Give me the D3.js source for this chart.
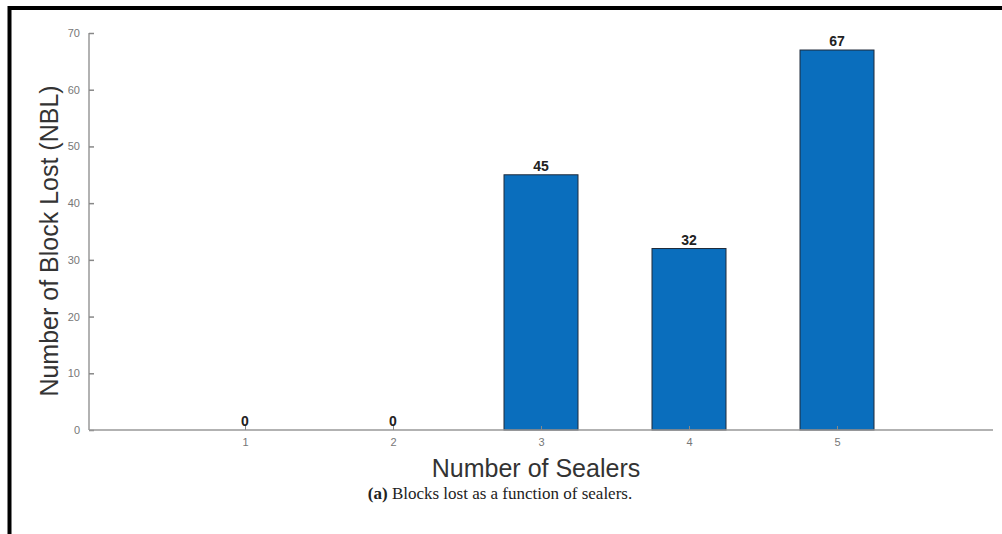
<!DOCTYPE html>
<html>
<head>
<meta charset="utf-8">
<script src="https://cdn.jsdelivr.net/npm/d3@7"></script>
<style>
  body { margin: 0; background: #fff; }
  svg { display: block; }
</style>
</head>
<body>
<div id="chart"></div>
<script>
(function(){
	var width = 1002,
	    height = 534;

	// data
	var sealers = [1, 2, 3, 4, 5];
	var blocksLost = [0, 0, 45, 32, 67];
	var yTicks = [0, 10, 20, 30, 40, 50, 60, 70];

	var svg = d3.select("#chart")
	  .append("svg")
	  .attr("width", width)
	  .attr("height", height);

	// black frame round the figure (top and left only visible)
	svg.append("path")
	  .attr("d", "M9.5,534 L9.5,8 L1002,8")
	  .attr("fill", "none")
	  .attr("stroke", "#000")
	  .attr("stroke-width", 4);

	var x = d3.scaleLinear().domain([-0.054, 6.054]).range([89, 993]);
	var y = d3.scaleLinear().domain([0, 70]).range([430, 33]);
	var barW = 74;

	// bars
	svg.selectAll(".bar")
	  .data(sealers)
	  .enter().append("rect")
	  .attr("class", "bar")
	  .attr("x", function(d) { return x(d) - barW / 2 })
	  .attr("y", function(d, i) { return y(blocksLost[i]) })
	  .attr("width", barW)
	  .attr("height", function(d, i) { return y(0) - y(blocksLost[i]) })
	  .attr("fill", "#0a6ebd")
	  .attr("stroke", "#1f2a3a")
	  .attr("stroke-width", 1);

	// y axis
	var yAxis = svg.append("g")
	  .attr("transform", "translate(89,0)")
	  .call(d3.axisRight(y).tickValues(yTicks).tickSize(5).tickFormat(d3.format("d")));
	yAxis.select(".domain").attr("stroke", "#999").attr("stroke-width", 1.5)
	  .attr("d", "M0," + y(70) + "V" + y(0));
	yAxis.selectAll(".tick line").attr("stroke", "#888").attr("stroke-width", 1.5);
	yAxis.selectAll(".tick text")
	  .attr("x", -9)
	  .attr("text-anchor", "end")
	  .attr("fill", "#777")
	  .style("font-family", "Liberation Sans, Arial, sans-serif")
	  .style("font-size", "11px");

	// x axis
	var xAxis = svg.append("g")
	  .attr("transform", "translate(0,430)")
	  .call(d3.axisTop(x).tickValues(sealers).tickSize(4).tickFormat(d3.format("d")));
	xAxis.select(".domain").attr("stroke", "#999").attr("stroke-width", 1.5)
	  .attr("d", "M89,0H993");
	xAxis.selectAll(".tick line").attr("stroke", "#888");
	xAxis.selectAll(".tick text")
	  .attr("y", 16)
	  .attr("dy", "0")
	  .attr("fill", "#777")
	  .style("font-family", "Liberation Sans, Arial, sans-serif")
	  .style("font-size", "11px");

	// value labels on top of bars
	svg.selectAll(".val")
	  .data(sealers)
	  .enter().append("text")
	  .attr("class", "val")
	  .attr("x", function(d) { return x(d) })
	  .attr("y", function(d, i) { return y(blocksLost[i]) - 4 })
	  .attr("text-anchor", "middle")
	  .attr("fill", "#222")
	  .style("font-family", "Liberation Sans, Arial, sans-serif")
	  .style("font-size", "14px")
	  .style("font-weight", "bold")
	  .text(function(d, i) { return blocksLost[i] });

	// axis titles
	svg.append("text")
	  .attr("x", 536)
	  .attr("y", 477)
	  .attr("text-anchor", "middle")
	  .attr("fill", "#333")
	  .style("font-family", "Liberation Sans, Arial, sans-serif")
	  .style("font-size", "25px")
	  .text("Number of Sealers");

	svg.append("text")
	  .attr("transform", "translate(58,241) rotate(-90)")
	  .attr("text-anchor", "middle")
	  .attr("fill", "#333")
	  .style("font-family", "Liberation Sans, Arial, sans-serif")
	  .style("font-size", "25px")
	  .text("Number of Block Lost (NBL)");

	// caption
	var cap = svg.append("text")
	  .attr("x", 500)
	  .attr("y", 499)
	  .attr("text-anchor", "middle")
	  .attr("fill", "#222")
	  .style("font-family", "Liberation Serif, DejaVu Serif, serif")
	  .style("font-size", "17px");
	cap.append("tspan").style("font-weight", "bold").text("(a)");
	cap.append("tspan").text(" Blocks lost as a function of sealers.");
})();
</script>
</body>
</html>
